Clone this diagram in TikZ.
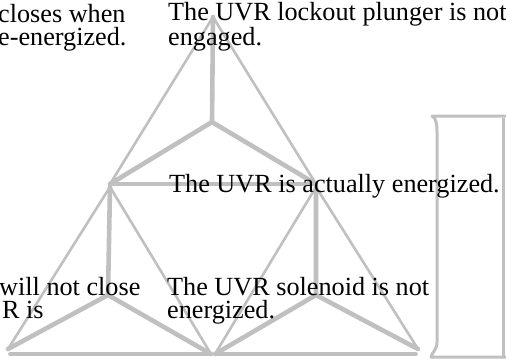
\documentclass[tikz,border=0pt]{standalone}
\usepackage{fontspec}
\setmainfont{Liberation Serif}
\definecolor{linegray}{RGB}{192,192,192}
\tikzset{
  txt/.style={anchor=base west, inner sep=0pt, align=left, font=\fontsize{26.2}{23}\selectfont, text=black},
  thin edge/.style={draw=linegray, line width=2.6pt, line cap=round, line join=round},
  thick edge/.style={draw=linegray, line width=4.6pt, line cap=round, line join=round},
  base edge/.style={draw=linegray, line width=3.6pt, line cap=round},
  pillar/.style={draw=linegray, line width=3pt, line join=round}
}
\begin{document}
\begin{tikzpicture}[x=1pt,y=-1pt]
\useasboundingbox (0,0) rectangle (506,360);
% top triangle
\coordinate (A1) at (213,17);
\coordinate (B1) at (110,184);
\coordinate (C1) at (316,184);
\coordinate (O1) at (212,122);
\draw[thin edge] (B1) -- (A1) -- (C1);
\draw[thick edge] (A1) -- (O1) (B1) -- (O1) -- (C1);
\draw[base edge] (B1) -- (C1);
% bottom-left triangle
\coordinate (A2) at (110,187);
\coordinate (B2) at (8,349);
\coordinate (C2) at (211,354);
\coordinate (O2) at (108,295);
\coordinate (L2) at (10,354);
\draw[thin edge] (B2) -- (A2) -- (C2);
\draw[thick edge] (A2) -- (O2) (B2) -- (O2) -- (C2);
\draw[base edge] (L2) -- (C2);
% bottom-right triangle
\coordinate (A3) at (316,187);
\coordinate (B3) at (215,354);
\coordinate (C3) at (418,349);
\coordinate (O3) at (316,295);
\coordinate (R3) at (416,354);
\draw[thin edge] (B3) -- (A3) -- (C3);
\draw[thick edge] (A3) -- (O3) (B3) -- (O3) -- (C3);
\draw[base edge] (B3) -- (R3);
% pillar
\coordinate (P1) at (510,116);
\coordinate (P2) at (432,116);
\coordinate (P3) at (437,132);
\coordinate (P4) at (437,342);
\coordinate (P5) at (431,357);
\coordinate (P6) at (510,357);
\draw[pillar] (P1) -- (P2) .. controls (436,118) and (437,124) .. (P3) -- (P4) .. controls (437,350) and (432,352) .. (P5) -- (P6);
\coordinate (Q1) at (503,118);
\coordinate (Q2) at (503,356);
\draw[pillar] (Q1) -- (Q2);
% texts
\node[txt] (t1) at (-2,45) {closes when\\e-energized.};
\node[txt] (t2) at (168,45) {The UVR lockout plunger is not\\engaged.};
\node[txt] (t3) at (169,192) {The UVR is actually energized.};
\node[txt] (t4) at (-1,318) {will not close\\\hspace*{3pt}R is};
\node[txt] (t5) at (167,318) {The UVR solenoid is not\\energized.};
\end{tikzpicture}
\end{document}
